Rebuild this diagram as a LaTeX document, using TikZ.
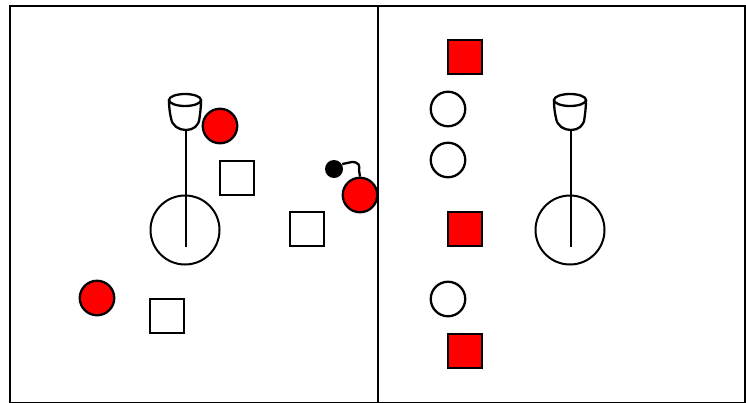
\documentclass[tikz,border=0pt]{standalone}
\begin{document}
\begin{tikzpicture}[x=1pt,y=-1pt,
  ln/.style={line width=2.3pt,black},
  redc/.style={circle,draw=black,line width=2.3pt,fill=red,minimum size=34.5pt,inner sep=0pt},
  whitec/.style={circle,draw=black,line width=2.3pt,fill=white,minimum size=34.5pt,inner sep=0pt},
  sqw/.style={rectangle,draw=black,line width=2.3pt,fill=white,minimum size=33.5pt,inner sep=0pt},
  sqr/.style={rectangle,draw=black,line width=2.3pt,fill=red,minimum size=33.5pt,inner sep=0pt},
  bigc/.style={circle,draw=black,line width=2pt,minimum size=69pt,inner sep=0pt},
  dotn/.style={circle,fill=black,minimum size=18pt,inner sep=0pt},
  cup/.pic={
    \draw[ln,fill=white] (-16,0) .. controls (-16,8) and (-15,14) .. (-14,18) .. controls (-13,26) and (-6,30) .. (1,30) .. controls (8,30) and (14,26) .. (14.5,18) .. controls (15,14) and (16,8) .. (16,0);
    \draw[ln,fill=white] (0,0) ellipse (16pt and 6pt);
  }]
\useasboundingbox (0,0) rectangle (746,402);
\draw[line width=2pt] (10,6) rectangle (745,403);
\draw[line width=2pt] (378,6) -- (378,403);
% left cup figure
\node[bigc] (cl) at (185,230) {};
\draw[ln] (186,130) -- (186,247);
\pic at (185,100) {cup};
% right cup figure
\node[bigc] (cr) at (570,230) {};
\draw[ln] (571,130) -- (571,247);
\pic at (570,100) {cup};
% left panel items
\node[redc] (r1) at (220,126) {};
\node[sqw] (s1) at (237,178) {};
\node[sqw] (s2) at (307,229) {};
\node[redc] (r2) at (97,298) {};
\node[sqw] (s3) at (167,316) {};
\node[redc] (r3) at (360,195) {};
\node[dotn] (d1) at (334,169) {};
\draw[ln] (d1.east) ++(-1,-5) -- (352,162) .. controls (359,162) and (360,166) .. (359,170) -- (r3.north);
% right panel items
\node[sqr] (q1) at (465,57) {};
\node[whitec] (w1) at (448,109) {};
\node[whitec] (w2) at (448,160) {};
\node[sqr] (q2) at (465,229) {};
\node[whitec] (w3) at (448,299) {};
\node[sqr] (q3) at (465,351) {};
\end{tikzpicture}
\end{document}
